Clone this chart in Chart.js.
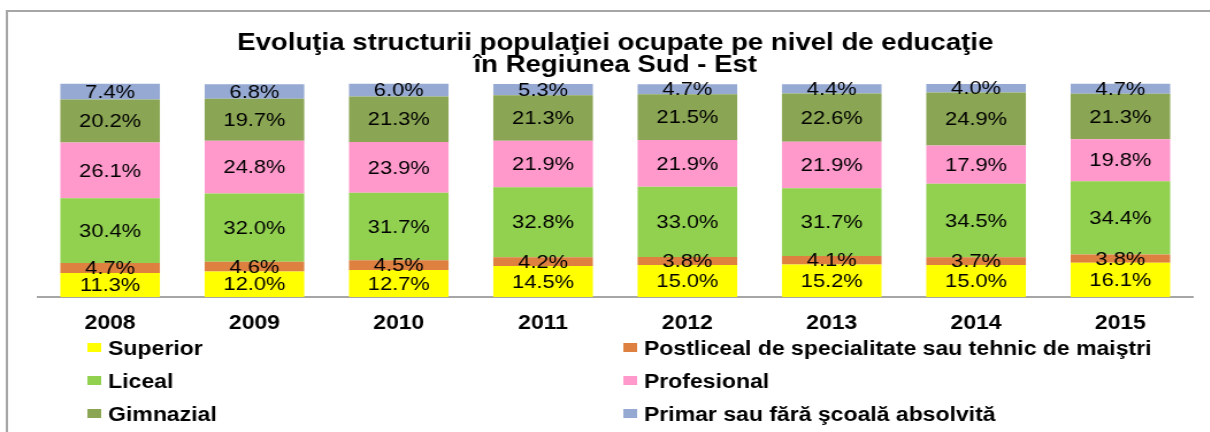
<!DOCTYPE html>
<html>
<head>
<meta charset="utf-8">
<title>Evoluţia structurii populaţiei ocupate</title>
<script src="https://cdn.jsdelivr.net/npm/chart.js@4"></script>
<style>
    html, body { margin: 0; padding: 0; background: #fff; overflow: hidden; }
    /* the original picture is stretched sideways, so draw narrow and widen it */
    #wrap { width: 1052px; height: 432px; transform: scaleX(1.15); transform-origin: 0 0; }
</style>
</head>
<body>
<div id="wrap"><canvas id="eduChart" width="1052" height="432"></canvas></div>
<script>
// Chart data
const years = ['2008', '2009', '2010', '2011', '2012', '2013', '2014', '2015'];
const seriesNames = [
    'Superior',
    'Postliceal de specialitate sau tehnic de maiştri',
    'Liceal',
    'Profesional',
    'Gimnazial',
    'Primar sau fără şcoală absolvită'
];
const superior    = [11.3, 12.0, 12.7, 14.5, 15.0, 15.2, 15.0, 16.1];
const postliceal  = [4.7, 4.6, 4.5, 4.2, 3.8, 4.1, 3.7, 3.8];
const liceal      = [30.4, 32.0, 31.7, 32.8, 33.0, 31.7, 34.5, 34.4];
const profesional = [26.1, 24.8, 23.9, 21.9, 21.9, 21.9, 17.9, 19.8];
const gimnazial   = [20.2, 19.7, 21.3, 21.3, 21.5, 22.6, 24.9, 21.3];
const primar      = [7.4, 6.8, 6.0, 5.3, 4.7, 4.4, 4.0, 4.7];

const seriesColors = ['#FFFF00', '#DD8040', '#92D050', '#FF99CC', '#8AA553', '#95A9D2'];

let eduChart = null;

// Frame line around the figure (left + top)
const framePlugin = {
    id: 'frame',
    beforeDraw(chart) {
        const ctx = chart.ctx;
        ctx.save();
        ctx.strokeStyle = '#A6A6A6';
        ctx.lineWidth = 2;
        ctx.beginPath();
        ctx.moveTo(6, 432);
        ctx.lineTo(6, 11);
        ctx.lineTo(chart.width, 11);
        ctx.stroke();
        ctx.restore();
    }
};

// Value labels centred in every segment
const valueLabels = {
    id: 'valueLabels',
    afterDatasetsDraw(chart) {
        const ctx = chart.ctx;
        ctx.save();
        ctx.font = "19px Arial, 'Liberation Sans', sans-serif";
        ctx.fillStyle = '#000';
        ctx.textAlign = 'center';
        ctx.textBaseline = 'middle';
        chart.data.datasets.forEach((ds, i) => {
            chart.getDatasetMeta(i).data.forEach((bar, j) => {
                const y = (bar.y + bar.base) / 2;
                ctx.fillText(ds.data[j].toFixed(1) + '%', bar.x, y + 1);
            });
        });
        ctx.restore();
    }
};

// Two-column legend below the axis
const gridLegend = {
    id: 'gridLegend',
    afterDraw(chart) {
        const ctx = chart.ctx;
        const colX = [76, 542];
        const rowY = [355, 388, 421];
        ctx.save();
        ctx.font = "bold 20px Arial, 'Liberation Sans', sans-serif";
        ctx.textBaseline = 'alphabetic';
        ctx.textAlign = 'left';
        chart.data.datasets.forEach((ds, i) => {
            const x = colX[i % 2];
            const y = rowY[Math.floor(i / 2)];
            ctx.fillStyle = ds.backgroundColor;
            ctx.fillRect(x, y - 12, 12, 9);
            ctx.fillStyle = '#000';
            ctx.fillText(ds.label, x + 18, y);
        });
        ctx.restore();
    }
};

document.addEventListener('DOMContentLoaded', function() {
    initEduChart();
});

function initEduChart() {
    const ctx = document.getElementById('eduChart').getContext('2d');
    const values = [superior, postliceal, liceal, profesional, gimnazial, primar];

    Chart.defaults.font.family = "Arial, 'Liberation Sans', sans-serif";
    Chart.defaults.color = '#000';

    eduChart = new Chart(ctx, {
        type: 'bar',
        data: {
            labels: years,
            datasets: values.map((v, i) => ({
                label: seriesNames[i],
                data: v,
                backgroundColor: seriesColors[i],
                borderWidth: 0,
                barPercentage: 0.69,
                categoryPercentage: 1,
                clip: false
            }))
        },
        options: {
            responsive: false,
            animation: false,
            devicePixelRatio: 1,
            layout: {
                padding: { left: 33, right: 15, top: 0, bottom: 83 }
            },
            scales: {
                x: {
                    stacked: true,
                    grid: { display: false, drawTicks: false },
                    border: { display: true, color: '#A6A6A6', width: 2 },
                    ticks: {
                        padding: 14,
                        color: '#000',
                        font: { size: 20, weight: 'bold' }
                    }
                },
                y: {
                    stacked: true,
                    min: 0,
                    max: 100,
                    display: false
                }
            },
            plugins: {
                legend: { display: false },
                tooltip: { enabled: false },
                title: {
                    display: true,
                    text: ['Evoluţia structurii populaţiei ocupate pe nivel de educaţie', 'în Regiunea Sud - Est'],
                    color: '#000',
                    font: { size: 24, weight: 'bold', lineHeight: '22px' },
                    padding: { top: 32, bottom: 8 }
                }
            }
        },
        plugins: [framePlugin, valueLabels, gridLegend]
    });
}
</script>
</body>
</html>
